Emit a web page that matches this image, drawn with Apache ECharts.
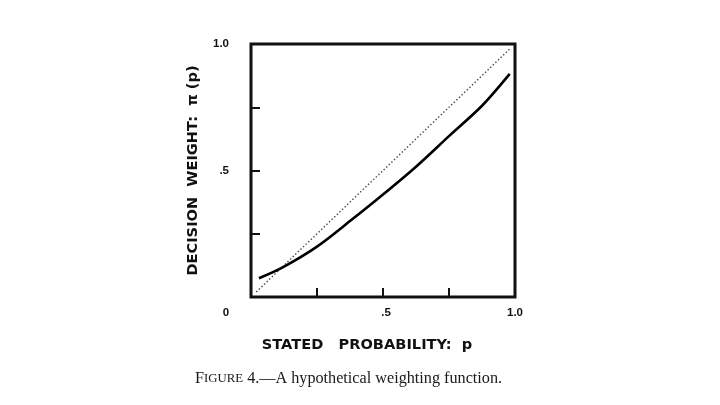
<!DOCTYPE html>
<html>
<head>
<meta charset="utf-8">
<script src="https://cdn.jsdelivr.net/npm/echarts@6/dist/echarts.min.js"></script>
<style>
html,body{margin:0;padding:0;background:#fff;}
#chart{width:720px;height:405px;}
</style>
</head>
<body>
<div id="chart"></div>
<script>
// Stated probability p (x) and decision weight pi(p) (y)
var curveX = [0.03, 0.12, 0.25, 0.375, 0.5, 0.625, 0.75, 0.875, 0.98];
var curveY = [0.074, 0.117, 0.199, 0.300, 0.405, 0.515, 0.636, 0.756, 0.882];
// identity reference (dotted)
var diagX = [0.02, 0.98];
var diagY = [0.02, 0.98];
var xTickLabels = {0: '{z|0}', 0.5: '{h|.5}', 1: '1.0'};
var yTickLabels = {0.5: '.5', 1: '1.0'};
var xName = 'STATED   PROBABILITY:  p';
var yName = 'DECISION  WEIGHT:  π (p)';
var captionLead = 'F';
var captionSmall = 'IGURE';
var captionRest = ' 4.—A hypothetical weighting function.';

function pairs(xs, ys) { return xs.map(function (x, i) { return [x, ys[i]]; }); }

var chart = echarts.init(document.getElementById('chart'));
var labelFont = {fontFamily: 'Liberation Sans', fontWeight: 'bold', fontSize: 11.5, color: '#111'};
var nameFont = {fontFamily: 'DejaVu Sans', fontWeight: 'bold', fontSize: 14.6, color: '#111'};
chart.setOption({
  animation: false,
  backgroundColor: '#fff',
  title: {
    text: '{a|' + captionLead + '}{b|' + captionSmall + '}{a|' + captionRest + '}',
    left: 195,
    top: 371,
    padding: 0,
    textStyle: {
      fontWeight: 'normal',
      rich: {
        a: {fontFamily: 'Liberation Serif', fontWeight: 'normal', fontSize: 16.2, color: '#1a1a1a'},
        b: {fontFamily: 'Liberation Serif', fontWeight: 'normal', fontSize: 12.8, color: '#1a1a1a'}
      }
    }
  },
  grid: {
    left: 251, top: 44, width: 264, height: 253,
    show: true, borderWidth: 3, borderColor: '#111', backgroundColor: 'transparent'
  },
  xAxis: {
    type: 'value', min: 0, max: 1, interval: 0.25,
    name: xName, nameLocation: 'middle', nameGap: 41,
    nameTextStyle: Object.assign({padding: [0, 32, 0, 0]}, nameFont),
    axisLine: {show: false},
    axisTick: {show: true, inside: true, length: 9, lineStyle: {color: '#111', width: 2}},
    splitLine: {show: false},
    axisLabel: Object.assign({
      margin: 10,
      formatter: function (v) { return xTickLabels[v] !== undefined ? xTickLabels[v] : ''; },
      rich: {
        z: Object.assign({padding: [0, 50, 0, 0]}, labelFont),
        h: Object.assign({padding: [0, 0, 0, 6]}, labelFont)
      }
    }, labelFont)
  },
  yAxis: {
    type: 'value', min: 0, max: 1, interval: 0.25,
    name: yName, nameLocation: 'middle', nameGap: 50,
    nameTextStyle: nameFont,
    axisLine: {show: false},
    axisTick: {show: true, inside: true, length: 9, lineStyle: {color: '#111', width: 2}},
    splitLine: {show: false},
    axisLabel: Object.assign({
      margin: 22,
      formatter: function (v) { return yTickLabels[v] !== undefined ? yTickLabels[v] : ''; }
    }, labelFont)
  },
  series: [
    {
      type: 'line', data: pairs(diagX, diagY), symbol: 'none',
      lineStyle: {type: [1.4, 2.2], width: 1.4, color: '#444'}
    },
    {
      type: 'line', data: pairs(curveX, curveY), symbol: 'none', smooth: 0.3,
      lineStyle: {width: 2.6, color: '#000'}
    }
  ]
});
</script>
</body>
</html>
